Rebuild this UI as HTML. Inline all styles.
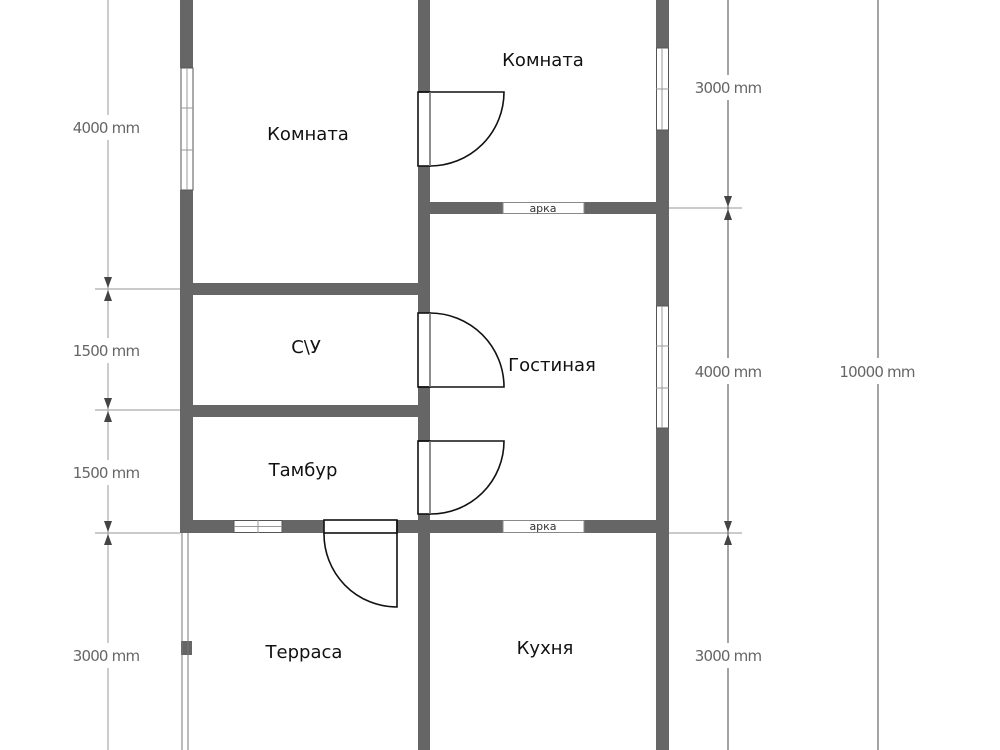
<!DOCTYPE html>
<html><head><meta charset="utf-8"><style>
html,body{margin:0;padding:0;background:#fff;width:1000px;height:750px;overflow:hidden}
svg{display:block}
.r{font-family:"DejaVu Sans","Liberation Sans",sans-serif;font-size:18px;fill:#111;text-anchor:middle}
.d{font-family:"DejaVu Sans","Liberation Sans",sans-serif;font-size:15px;fill:#666;text-anchor:middle;letter-spacing:-0.8px}
.a{font-family:"DejaVu Sans","Liberation Sans",sans-serif;font-size:11px;fill:#333;text-anchor:middle}
</style></head><body>
<svg width="1000" height="750" viewBox="0 0 1000 750" xmlns="http://www.w3.org/2000/svg">
<g fill="#666">
<rect x="180" y="0" width="13" height="68"/>
<rect x="180" y="190" width="13" height="343"/>
<rect x="418" y="0" width="12" height="750"/>
<rect x="656" y="0" width="13" height="48"/>
<rect x="656" y="130" width="13" height="176"/>
<rect x="656" y="428" width="13" height="322"/>
<rect x="193" y="283" width="225" height="12"/>
<rect x="193" y="405" width="225" height="12"/>
<rect x="180" y="520" width="489" height="13"/>
<rect x="430" y="202" width="226" height="12"/>
<rect x="181" y="641" width="11" height="14"/>
</g>
<g fill="#fff" stroke="#555" stroke-width="1">
<rect x="181" y="68" width="12" height="122"/>
<rect x="656.5" y="48" width="12" height="82"/>
<rect x="656.5" y="306" width="12" height="122"/>
<rect x="234" y="520.5" width="48" height="12"/>
</g>
<g stroke="#999" stroke-width="1">
<line x1="187" y1="68" x2="187" y2="190"/><line x1="181" y1="108" x2="193" y2="108"/><line x1="181" y1="150" x2="193" y2="150"/>
<line x1="662" y1="48" x2="662" y2="130"/><line x1="656" y1="89" x2="669" y2="89"/>
<line x1="662" y1="306" x2="662" y2="428"/><line x1="656" y1="346" x2="669" y2="346"/><line x1="656" y1="388" x2="669" y2="388"/>
<line x1="234" y1="526.5" x2="282" y2="526.5"/><line x1="258" y1="520" x2="258" y2="533"/>
</g>
<g stroke="#777" stroke-width="1"><line x1="182" y1="533" x2="182" y2="750"/><line x1="188" y1="533" x2="188" y2="750"/></g>
<rect x="503" y="202.5" width="81" height="11" fill="#fff" stroke="#888"/>
<text class="a" x="543" y="212">арка</text>
<rect x="503" y="520.5" width="81" height="12" fill="#fff" stroke="#888"/>
<text class="a" x="543" y="530">арка</text>
<g fill="#fff" stroke="#111" stroke-width="1.6">
<rect x="418" y="92" width="12" height="74"/>
<path d="M418 92 H504 A74 74 0 0 1 430 166" fill="none"/>
<rect x="418" y="313" width="12" height="74"/>
<path d="M430 313 A74 74 0 0 1 504 387 H418" fill="none"/>
<rect x="418" y="441" width="12" height="73"/>
<path d="M418 441 H504 A73 73 0 0 1 430 514" fill="none"/>
<rect x="324" y="520" width="73" height="13"/>
<path d="M324 533 A73 73 0 0 0 397 607 V520" fill="none"/>
</g>
<g stroke="#aaa" stroke-width="1">
<line x1="430" y1="92" x2="430" y2="166"/><line x1="430" y1="313" x2="430" y2="387"/><line x1="430" y1="441" x2="430" y2="514"/>
</g>
<g stroke="#aaa" stroke-width="1.2">
<line x1="108" y1="0" x2="108" y2="115"/><line x1="108" y1="140" x2="108" y2="338"/><line x1="108" y1="363" x2="108" y2="460"/><line x1="108" y1="485" x2="108" y2="643"/><line x1="108" y1="668" x2="108" y2="750"/>
<line x1="95" y1="289" x2="180" y2="289"/><line x1="95" y1="410" x2="180" y2="410"/><line x1="95" y1="533" x2="180" y2="533"/>
<line x1="669" y1="208" x2="742" y2="208"/><line x1="669" y1="533" x2="742" y2="533"/>
</g>
<g stroke="#666" stroke-width="1.2">
<line x1="728" y1="0" x2="728" y2="75"/><line x1="728" y1="100" x2="728" y2="358"/><line x1="728" y1="384" x2="728" y2="643"/><line x1="728" y1="668" x2="728" y2="750"/>
<line x1="878" y1="0" x2="878" y2="358"/><line x1="878" y1="384" x2="878" y2="750"/>
</g>
<g fill="#444">
<path d="M104 277 h8 l-4 11z M104 301 h8 l-4 -11z"/>
<path d="M104 398 h8 l-4 11z M104 422 h8 l-4 -11z"/>
<path d="M104 521 h8 l-4 11z M104 545 h8 l-4 -11z"/>
<path d="M724 196 h8 l-4 11z M724 220 h8 l-4 -11z"/>
<path d="M724 521 h8 l-4 11z M724 545 h8 l-4 -11z"/>
</g>
<text class="d" x="106" y="133">4000 mm</text>
<text class="d" x="106" y="356">1500 mm</text>
<text class="d" x="106" y="478">1500 mm</text>
<text class="d" x="106" y="661">3000 mm</text>
<text class="d" x="728" y="93">3000 mm</text>
<text class="d" x="728" y="377">4000 mm</text>
<text class="d" x="728" y="661">3000 mm</text>
<text class="d" x="877" y="377">10000 mm</text>
<text class="r" x="308" y="140">Комната</text>
<text class="r" x="543" y="66">Комната</text>
<text class="r" x="306" y="353">С\У</text>
<text class="r" x="552" y="371">Гостиная</text>
<text class="r" x="303" y="476">Тамбур</text>
<text class="r" x="304" y="658">Терраса</text>
<text class="r" x="545" y="654">Кухня</text>
</svg>
</body></html>
